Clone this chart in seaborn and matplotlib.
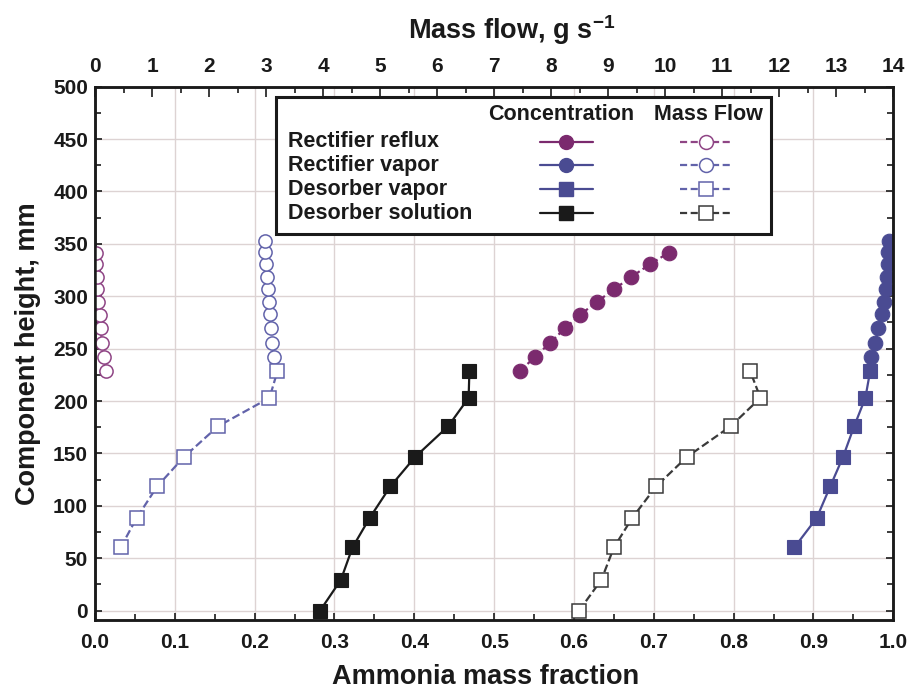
import matplotlib
matplotlib.use("Agg")
import matplotlib.pyplot as plt
import pandas as pd
import seaborn as sns
from matplotlib.lines import Line2D
from matplotlib.patches import Rectangle
from matplotlib.ticker import MultipleLocator, FormatStrFormatter

# ---- measured profiles along the component height ----
# Rectifier reflux (liquid)
reflux_height = [228.5, 241.9, 255.6, 269.6, 282.5, 294.8, 306.6, 318.5, 330.5, 341.7]
reflux_conc = [0.532, 0.551, 0.570, 0.589, 0.608, 0.629, 0.650, 0.672, 0.695, 0.719]
reflux_flow = [0.19, 0.16, 0.12, 0.10, 0.08, 0.05, 0.04, 0.03, 0.02, 0.01]

# Rectifier vapor
rvapor_height = [242.0, 255.6, 270.0, 282.7, 294.8, 306.6, 318.7, 330.5, 342.0, 353.0]
rvapor_conc = [0.9725, 0.977, 0.9813, 0.9855, 0.988, 0.9905, 0.9918, 0.993, 0.9938, 0.9946]
rvapor_flow = [3.14, 3.11, 3.09, 3.07, 3.05, 3.03, 3.01, 3.00, 2.99, 2.99]

# Desorber vapor
dvapor_height = [60.2, 88.3, 118.5, 146.6, 176.0, 203.0, 228.5]
dvapor_conc = [0.876, 0.904, 0.921, 0.937, 0.951, 0.965, 0.971]
dvapor_flow = [0.45, 0.73, 1.09, 1.56, 2.16, 3.06, 3.20]

# Desorber solution
dsol_height = [0.0, 29.3, 60.2, 88.3, 118.5, 146.6, 176.0, 203.0, 228.5]
dsol_conc = [0.282, 0.308, 0.3225, 0.344, 0.370, 0.401, 0.4425, 0.468, 0.469]
dsol_flow = [8.49, 8.88, 9.10, 9.42, 9.84, 10.38, 11.15, 11.67, 11.49]

series_names = ["Rectifier reflux", "Rectifier vapor", "Desorber vapor", "Desorber solution"]
x_ticks_fraction = [0.0, 0.1, 0.2, 0.3, 0.4, 0.5, 0.6, 0.7, 0.8, 0.9, 1.0]
x_ticks_flow = list(range(0, 15))
y_ticks = list(range(0, 501, 50))

PURPLE = "#7b2a6e"
BLUE = "#4a4b92"
BLACK = "#1a1a1a"
PURPLE_L = "#8f4585"
BLUE_L = "#6263aa"
BLACK_L = "#3a3a3a"

sns.set_theme(style="white")
plt.rcParams["font.family"] = ["Liberation Sans", "DejaVu Sans"]
plt.rcParams["font.weight"] = "bold"
plt.rcParams["axes.labelweight"] = "bold"
plt.rcParams["mathtext.fontset"] = "custom"
plt.rcParams["mathtext.rm"] = "Liberation Sans:bold"
plt.rcParams["mathtext.bf"] = "Liberation Sans:bold"
plt.rcParams["mathtext.default"] = "rm"
plt.rcParams["text.color"] = BLACK
plt.rcParams["axes.labelcolor"] = BLACK

fig = plt.figure(figsize=(9.12, 6.92), dpi=100)
ax = fig.add_axes([95 / 912, (692 - 620) / 692, 798.3 / 912, 533.3 / 692])
ax2 = ax.twiny()

conc = [
    (reflux_conc, reflux_height, PURPLE, "o", (3.2, 1.6)),
    (rvapor_conc, rvapor_height, BLUE, "o", None),
    (dvapor_conc, dvapor_height, BLUE, "s", None),
    (dsol_conc, dsol_height, BLACK, "s", None),
]
for xs, ys, col, mk, dash in conc:
    df = pd.DataFrame({"fraction": xs, "height": ys})
    kw = dict(linestyle="-") if dash is None else dict(dashes=dash)
    sns.lineplot(data=df, x="fraction", y="height", sort=False, estimator=None,
                 ax=ax, color=col, marker=mk, markersize=10 if mk == "s" else 10.5,
                 markerfacecolor=col, markeredgecolor=col, markeredgewidth=0.8,
                 linewidth=1.6, **kw)

flow = [
    (reflux_flow, reflux_height, PURPLE_L, "o"),
    (rvapor_flow, rvapor_height, BLUE_L, "o"),
    (dvapor_flow, dvapor_height, BLUE_L, "s"),
    (dsol_flow, dsol_height, BLACK_L, "s"),
]
for xs, ys, col, mk in flow:
    df = pd.DataFrame({"flow": xs, "height": ys})
    sns.lineplot(data=df, x="flow", y="height", sort=False, estimator=None,
                 ax=ax2, color=col, marker=mk, markersize=10 if mk == "s" else 9.5,
                 markerfacecolor="white", markeredgecolor=col, markeredgewidth=1.1,
                 linewidth=1.6, dashes=(3.6, 1.6))

# ---- axes, ticks and grid ----
ax.set_xlim(0, 1.0)
ax.set_ylim(-9, 500)
ax2.set_xlim(0, 14)
ax.set_xticks(x_ticks_fraction)
ax.xaxis.set_major_formatter(FormatStrFormatter("%.1f"))
ax.xaxis.set_minor_locator(MultipleLocator(0.05))
ax.set_yticks(y_ticks)
ax.yaxis.set_minor_locator(MultipleLocator(25))
ax2.set_xticks(x_ticks_flow)
ax2.xaxis.set_minor_locator(MultipleLocator(0.5))

ax.grid(True, which="major", color="#ddd3d3", linewidth=1.0)
ax.set_axisbelow(True)

ax.tick_params(axis="both", which="both", direction="in", colors=BLACK,
               labelsize=15, width=1.2)
ax.tick_params(axis="x", which="both", bottom=True, top=False, pad=9)
ax.tick_params(axis="y", which="both", left=True, right=True, labelright=False, pad=5)
ax.tick_params(which="major", length=5)
ax.tick_params(which="minor", length=4)
ax2.tick_params(axis="x", which="both", direction="in", top=True, bottom=False,
                labeltop=True, labelbottom=False, labelsize=15, colors=BLACK,
                width=1.2, pad=8)
ax2.tick_params(axis="x", which="major", length=7)
ax2.tick_params(axis="x", which="minor", length=4)

for a in (ax, ax2):
    for sp in a.spines.values():
        sp.set_color(BLACK)
        sp.set_linewidth(1.8)

ax.set_xlabel("Ammonia mass fraction", fontsize=19.5, fontweight="bold", labelpad=9)
ax.set_ylabel("Component height, mm", fontsize=19.5, fontweight="bold", labelpad=9)
ax2.set_xlabel("Mass flow, g s$^{-1}$", fontsize=19.5, fontweight="bold", labelpad=13)
ax.xaxis.label.set_x(0.489)
ax2.xaxis.label.set_x(0.522)

# ---- legend table ----
tr = ax2.transAxes
box = Rectangle((0.2264, 0.7238), 0.8468 - 0.2264, 0.980 - 0.7238, transform=tr,
                facecolor="white", edgecolor=BLACK, linewidth=2.2, zorder=20)
ax2.add_patch(box)
ax2.text(0.5846, 0.947, "Concentration", transform=tr, ha="center", va="center",
         fontsize=15.5, zorder=21)
ax2.text(0.7679, 0.947, "Mass Flow", transform=tr, ha="center", va="center",
         fontsize=15.5, zorder=21)
row_y = [0.897, 0.853, 0.808, 0.763]
conc_style = [(PURPLE, "o"), (BLUE, "o"), (BLUE, "s"), (BLACK, "s")]
flow_style = [(PURPLE_L, "o"), (BLUE_L, "o"), (BLUE_L, "s"), (BLACK_L, "s")]
for name, yy, (cc, cm), (fc, fm) in zip(series_names, row_y, conc_style, flow_style):
    ax2.text(0.2418, yy, name, transform=tr, ha="left", va="center",
             fontsize=15.5, zorder=21)
    ax2.add_line(Line2D([0.5574, 0.6238], [yy, yy], transform=tr, color=cc,
                        linewidth=1.6, zorder=21))
    ax2.add_line(Line2D([0.5906], [yy], transform=tr, color=cc, marker=cm,
                        markersize=10, markerfacecolor=cc, markeredgecolor=cc,
                        linestyle="none", zorder=22))
    ax2.add_line(Line2D([0.7328, 0.7976], [yy, yy], transform=tr, color=fc,
                        linewidth=1.6, dashes=(3.2, 1.6), zorder=21))
    ax2.add_line(Line2D([0.7652], [yy], transform=tr, color=fc, marker=fm,
                        markersize=10, markerfacecolor="white", markeredgecolor=fc,
                        markeredgewidth=1.1, linestyle="none", zorder=22))

fig.savefig("out.png", dpi=100, facecolor="white")
